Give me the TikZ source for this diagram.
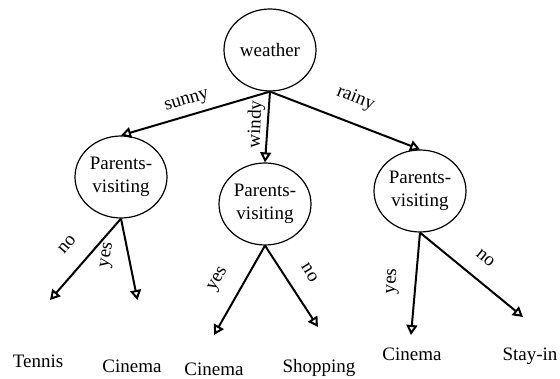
\documentclass[tikz,border=0pt]{standalone}
\usepackage{fontspec}
\setmainfont{Liberation Serif}
\usetikzlibrary{arrows.meta,shapes.geometric}

\begin{document}
\begin{tikzpicture}[x=1pt,y=-1pt,->,>={Triangle[open,length=10pt,width=11pt]},%
    line width=2pt,font=\fontsize{19}{23}\selectfont,
    test/.style={ellipse,draw,line width=1.2pt,minimum width=92pt,
                 minimum height=82pt,inner sep=0pt,align=center},
    leaf/.style={inner sep=0pt,anchor=base},
    lbl/.style={inner sep=2pt,anchor=south}]

    \useasboundingbox (0,0) rectangle (560,379);

    \node[test] (W)  at (270,50)  {weather};
    \node[test] (P1) at (121,177) {Parents-\\visiting};
    \node[test] (P2) at (265,204) {Parents-\\visiting};
    \node[test] (P3) at (420,191) {Parents-\\visiting};

    \coordinate (T1) at (50,300);
    \coordinate (C1) at (137.5,300);
    \coordinate (C2) at (214,335);
    \coordinate (S2) at (318,327);
    \coordinate (C3) at (411,335);
    \coordinate (S3) at (523,317);

    \node[leaf] (tennis)   at (38,368)  {Tennis};
    \node[leaf] (cinema1)  at (132,373) {Cinema};
    \node[leaf] (cinema2)  at (214,376) {Cinema};
    \node[leaf] (shopping) at (319,373) {Shopping};
    \node[leaf] (cinema3)  at (412,361) {Cinema};
    \node[leaf] (stayin)   at (530,361) {Stay-in};

    \path
        (W.south)  edge node[lbl,pos=.53,rotate=17,yshift=4pt]    {sunny} (P1.north)
        (W.south)  edge node[lbl,pos=.47,rotate=88]               {windy} (P2.north)
        (W.south)  edge node[lbl,pos=.51,rotate=-22,yshift=13pt]  {rainy} (P3.north)
        (P1.south) edge node[lbl,pos=.51,rotate=49,yshift=16pt]   {no}    (T1)
        (P1.south) edge node[lbl,pos=.49,rotate=81,yshift=12pt]   {yes}   (C1)
        (P2.south) edge node[lbl,pos=.51,rotate=60,yshift=14pt]   {yes}   (C2)
        (P2.south) edge node[lbl,pos=.48,rotate=-58,yshift=15pt]  {no}    (S2)
        (P3.south) edge node[lbl,pos=.49,rotate=86,yshift=13pt]   {yes}   (C3)
        (P3.south) edge node[lbl,pos=.50,rotate=-40,yshift=14pt]  {no}    (S3);
\end{tikzpicture}
\end{document}
